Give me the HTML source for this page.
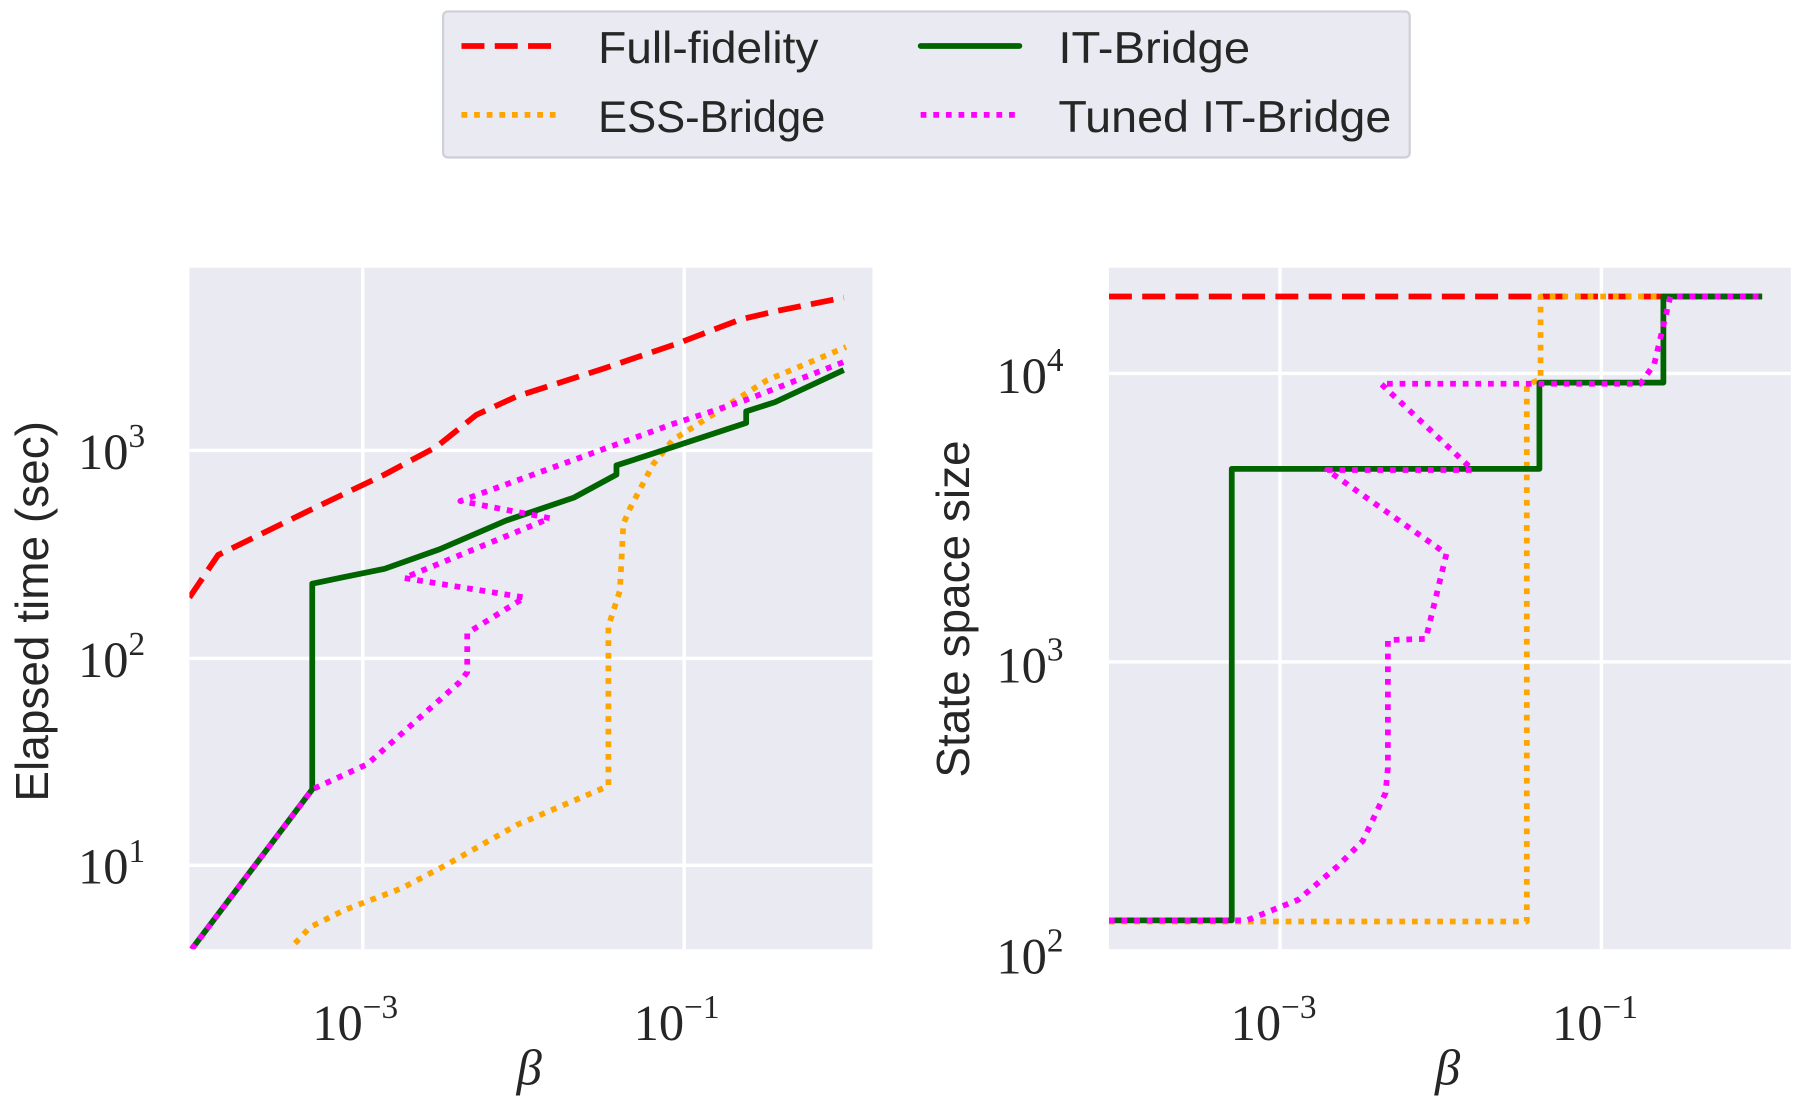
<!DOCTYPE html>
<html><head><meta charset="utf-8"><style>
html,body{margin:0;padding:0;background:#fff;}
svg{display:block;}
.t{font-family:"Liberation Serif",serif;fill:#262626;}
.s{font-family:"Liberation Sans","DejaVu Sans",sans-serif;fill:#262626;}
</style></head><body>
<svg width="1800" height="1110" viewBox="0 0 1568 966" preserveAspectRatio="none" xmlns="http://www.w3.org/2000/svg">
<defs>
<clipPath id="cl"><rect x="165" y="233" width="595" height="593"/></clipPath>
<clipPath id="cr"><rect x="966" y="233" width="594" height="593"/></clipPath>
</defs>
<rect x="165" y="233" width="595" height="593" fill="#eaeaf2"/>
<g stroke="#fff" stroke-width="3">
<line x1="316" y1="233" x2="316" y2="826"/><line x1="596" y1="233" x2="596" y2="826"/>
<line x1="165" y1="392" x2="760" y2="392"/><line x1="165" y1="573" x2="760" y2="573"/><line x1="165" y1="753" x2="760" y2="753"/>
</g>
<g clip-path="url(#cl)" fill="none" stroke-linejoin="round">
<polyline stroke="#ff0000" stroke-width="5" stroke-dasharray="20 9" points="165,520 190,483 272,443 335,413 380,389 415,361 450,345 525,321 590,299 645,278 675,271 735,259"/>
<polyline stroke="#ffa500" stroke-width="5" stroke-dasharray="5 6" points="257,821 270,807 300,792 350,773 390,752 450,718 530,684 530,545 540,514 543,456 549,442 569,404 586,383 668,331 737,302"/>
<polyline stroke="#006400" stroke-width="5" points="167,826 272,687 272,508 296,503 335,495 383,478 441,453 500,433 537,413 537,405 565,396 650,368 650,358 675,350 735,322"/>
<polyline stroke="#ff00ff" stroke-width="5" stroke-dasharray="5 6" points="167,826 272,687 320,665 400,594 407,585 407,551 457,520 352,503 479,451 401,436 586,369 620,358 650,348 735,315"/>
</g>
<rect x="966" y="233" width="594" height="593" fill="#eaeaf2"/>
<g stroke="#fff" stroke-width="3">
<line x1="1115" y1="233" x2="1115" y2="826"/><line x1="1395" y1="233" x2="1395" y2="826"/>
<line x1="966" y1="325" x2="1560" y2="325"/><line x1="966" y1="576" x2="1560" y2="576"/>
</g>
<g clip-path="url(#cr)" fill="none" stroke-linejoin="round">
<polyline stroke="#ff0000" stroke-width="5" stroke-dasharray="20 9" points="966,258 1535,258"/>
<polyline stroke="#ffa500" stroke-width="5" stroke-dasharray="5 6" points="966,802 1330,802 1330,335 1342,330 1342,258 1535,258"/>
<polyline stroke="#006400" stroke-width="5" points="966,801 1073,801 1073,408 1341,408 1341,333 1449,333 1449,258 1535,258"/>
<polyline stroke="#ff00ff" stroke-width="5" stroke-dasharray="5 6" points="966,801 1086,801 1131,783 1165,754 1187,732 1207,690 1209,668 1209,557 1242,556 1260,482 1156,409 1283,409 1203,334 1429,334 1441,317 1455,258 1535,258"/>
</g>
<g class="t" font-size="44">
<text x="68" y="408">10<tspan font-size="29" dy="-19">3</tspan></text>
<text x="68" y="589">10<tspan font-size="29" dy="-19">2</tspan></text>
<text x="68" y="769">10<tspan font-size="29" dy="-19">1</tspan></text>
<text x="272" y="905">10<tspan font-size="29" dy="-19">−3</tspan></text>
<text x="552" y="905">10<tspan font-size="29" dy="-19">−1</tspan></text>
<text x="450" y="944" font-style="italic">β</text>
<text x="868" y="342">10<tspan font-size="29" dy="-19">4</tspan></text>
<text x="868" y="594">10<tspan font-size="29" dy="-19">3</tspan></text>
<text x="868" y="847">10<tspan font-size="29" dy="-19">2</tspan></text>
<text x="1072" y="905">10<tspan font-size="29" dy="-19">−3</tspan></text>
<text x="1352" y="905">10<tspan font-size="29" dy="-19">−1</tspan></text>
<text x="1250" y="944" font-style="italic">β</text>
</g>
<text class="s" font-size="40" text-anchor="middle" transform="translate(42,532) rotate(-90)">Elapsed time (sec)</text>
<text class="s" font-size="40" text-anchor="middle" transform="translate(844,530) rotate(-90)">State space size</text>
<rect x="386" y="10" width="842" height="127" rx="4" fill="#eaeaf2" stroke="#d0d0d8" stroke-width="2"/>
<line x1="402" y1="40" x2="486" y2="40" stroke="#ff0000" stroke-width="5" stroke-dasharray="20 9"/>
<line x1="402" y1="100" x2="486" y2="100" stroke="#ffa500" stroke-width="5" stroke-dasharray="5 6"/>
<line x1="802" y1="40" x2="888" y2="40" stroke="#006400" stroke-width="5" stroke-linecap="round"/>
<line x1="802" y1="100" x2="888" y2="100" stroke="#ff00ff" stroke-width="5" stroke-dasharray="5 6"/>
<g class="s" font-size="39">
<text x="521" y="55" textLength="192" lengthAdjust="spacingAndGlyphs">Full-fidelity</text>
<text x="521" y="115" textLength="198" lengthAdjust="spacingAndGlyphs">ESS-Bridge</text>
<text x="922" y="55" textLength="167" lengthAdjust="spacingAndGlyphs">IT-Bridge</text>
<text x="922" y="115" textLength="290" lengthAdjust="spacingAndGlyphs">Tuned IT-Bridge</text>
</g>
</svg>
</body></html>
